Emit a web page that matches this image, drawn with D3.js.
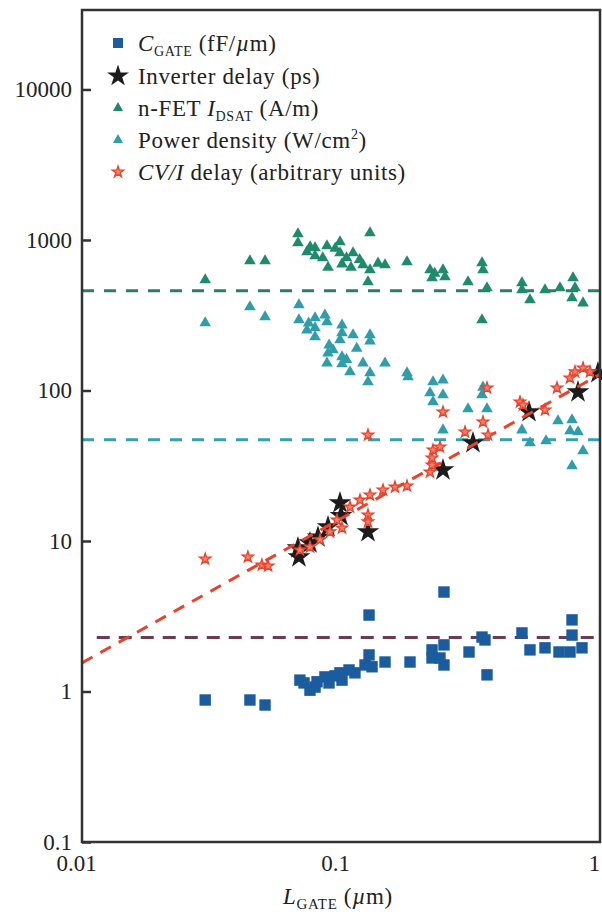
<!DOCTYPE html>
<html>
<head>
<meta charset="utf-8">
<script src="https://cdn.jsdelivr.net/npm/d3@7"></script>
<style>
  html, body { margin: 0; padding: 0; background: #fff; }
  svg { display: block; }
  text { font-family: "Liberation Serif", "Times New Roman", serif; fill: #222; }
</style>
</head>
<body>
<svg id="chart" width="602" height="912"></svg>
<script>
// Gate length L_GATE (µm) paired with each measured quantity.
const cgatePoints = [
  [0.0299, 0.878], [0.0445, 0.878], [0.0509, 0.813], [0.0694, 1.19], [0.0720, 1.14],
  [0.0759, 1.02], [0.0794, 1.07], [0.0808, 1.16], [0.0867, 1.25], [0.0899, 1.14],
  [0.0948, 1.27], [0.0991, 1.33], [0.1009, 1.19], [0.1074, 1.39], [0.1132, 1.33],
  [0.1238, 1.50], [0.1283, 1.75], [0.1318, 1.46], [0.1283, 3.22], [0.1479, 1.57],
  [0.1847, 1.57], [0.2246, 1.89], [0.2246, 1.67], [0.2498, 2.04], [0.2498, 1.50],
  [0.2411, 1.67], [0.2498, 4.58], [0.3121, 1.83], [0.3503, 2.30], [0.3597, 2.20],
  [0.3662, 1.29], [0.4997, 2.45], [0.5366, 1.89], [0.6133, 1.95], [0.6945, 1.83],
  [0.7797, 2.99], [0.7797, 2.37], [0.7659, 1.83], [0.852, 1.95]
];

const inverterDelay = [
  [0.0682, 8.98], [0.0688, 7.83], [0.0759, 9.70], [0.0815, 10.6], [0.0891, 12.4],
  [0.0991, 17.9], [0.1000, 14.7], [0.1271, 11.5], [0.2476, 29.6], [0.3233, 44.8],
  [0.5321, 72.0], [0.8223, 97.7], [0.982, 131]
];

const nfetIdsat = [
  [0.0299, 542], [0.0445, 725], [0.0509, 725], [0.0682, 1096], [0.0682, 955],
  [0.0739, 832], [0.0794, 885], [0.0794, 783], [0.0883, 912], [0.0891, 657],
  [0.0991, 970], [0.0991, 819], [0.1009, 692], [0.1093, 657], [0.1113, 819],
  [0.1216, 682], [0.1294, 1113], [0.1294, 632], [0.1271, 526], [0.1479, 682],
  [0.1798, 714], [0.2206, 632], [0.2246, 559], [0.2476, 632], [0.2521, 568],
  [0.3093, 526], [0.3503, 703], [0.3534, 632], [0.3662, 480], [0.3503, 294],
  [0.4997, 518], [0.4997, 465], [0.5366, 399], [0.6133, 465], [0.7008, 480],
  [0.7867, 559], [0.8008, 480], [0.7797, 412], [0.860, 381],
  [0.0760, 900], [0.0850, 760], [0.1050, 760], [0.1180, 740], [0.0950, 880],
  [0.1390, 700], [0.2300, 600]
];

const powerDensity = [
  [0.0299, 281], [0.0445, 359], [0.0509, 308], [0.0688, 370], [0.0688, 294],
  [0.0739, 252], [0.0794, 303], [0.0794, 260], [0.0794, 227], [0.0867, 317],
  [0.0883, 285], [0.0891, 177], [0.0883, 152], [0.0931, 186], [0.1009, 272],
  [0.1009, 241], [0.0991, 217], [0.1009, 167], [0.1009, 150], [0.1083, 133],
  [0.1113, 234], [0.1216, 152], [0.1294, 234], [0.1294, 213], [0.1294, 131],
  [0.1271, 114], [0.1479, 152], [0.1798, 131], [0.1815, 123], [0.2266, 114],
  [0.2476, 117], [0.2206, 96.2], [0.2266, 83.9], [0.2476, 93.3], [0.2476, 54.6],
  [0.3093, 75.4], [0.3534, 105], [0.3503, 93.3], [0.3662, 75.4], [0.4997, 54.6],
  [0.5366, 44.8], [0.6188, 46.2], [0.6883, 62.7], [0.7797, 63.7], [0.7659, 53.8],
  [0.8223, 53.0], [0.860, 39.6], [0.7797, 31.5],
  [0.0750, 280], [0.0900, 200], [0.1050, 160], [0.1150, 190]
];

const cviDelay = [
  [0.0299, 7.59], [0.0437, 7.83], [0.0495, 6.93], [0.0523, 6.82], [0.0694, 8.71],
  [0.0759, 9.12], [0.0830, 10.2], [0.0907, 11.5], [0.0965, 13.8], [0.1009, 12.2],
  [0.1083, 16.8], [0.1184, 18.7], [0.1271, 14.9], [0.1271, 13.4], [0.1294, 20.2],
  [0.1271, 50.6], [0.1453, 21.8], [0.1616, 22.8], [0.1798, 23.2], [0.2206, 28.7],
  [0.2246, 32.0], [0.2246, 35.6], [0.2266, 40.2], [0.2411, 42.1], [0.2476, 72.0],
  [0.3012, 53.0], [0.3534, 61.8], [0.3695, 50.6], [0.3662, 104], [0.491, 83.9],
  [0.5042, 80.1], [0.6133, 74.2], [0.6823, 104], [0.7659, 121], [0.8008, 133],
  [0.860, 141], [0.915, 133]
];

// Reference levels (dashed) and the CV/I power-law trend.
const nfetLevel = [[0.01, 460], [1, 460]];
const powerLevel = [[0.01, 47], [1, 47]];
const cgateLevel = [[0.0114, 2.28], [1, 2.28]];
const cviTrend = [[0.01, 1.55], [1, 128]];

const yTicks = [0.1, 1, 10, 100, 1000, 10000];
const yTickLabels = ["0.1", "1", "10", "100", "1000", "10000"];
const xTicks = [0.01, 0.1, 1];
const xTickLabels = ["0.01", "0.1", "1"];

const svg = d3.select("#chart");
const plot = { left: 82, right: 600, top: 10, bottom: 842 };

const x = d3.scaleLog().domain([0.01, 1]).range([plot.left, plot.right]);
const y = d3.scaleLog().domain([0.1, Math.pow(10, 4.528)]).range([plot.bottom, plot.top]);

const colors = {
  cgate: "#1b5c9e",
  inv: "#1c1c1c",
  nfet: "#1f8a6c",
  power: "#2d9eaa",
  cvi: "#e8432c",
  cviFill: "#f3806a",
  nfetLine: "#2b7d68",
  powerLine: "#30a3ad",
  cgateLine: "#6b3b52",
  axis: "#333"
};

const FONT = 23, SUB = 14, SPACING = 0.65;

const line = d3.line().x(d => x(d[0])).y(d => y(d[1]));

function dashed(data, color, dash) {
  svg.append("path")
    .datum(data)
    .attr("d", line)
    .attr("fill", "none")
    .attr("stroke", color)
    .attr("stroke-width", 3)
    .attr("stroke-dasharray", dash);
}

dashed(nfetLevel, colors.nfetLine, "12,10");
dashed(powerLevel, colors.powerLine, "12,10");
dashed(cgateLevel, colors.cgateLine, "13,9");

const tri = d3.symbol().type(d3.symbolTriangle).size(58);
const sq = d3.symbol().type(d3.symbolSquare).size(130);
const bigStar = d3.symbol().type(d3.symbolStar).size(160);
const smallStar = d3.symbol().type(d3.symbolStar).size(40);

function scatter(data, sym, fill, stroke, sw) {
  svg.append("g").selectAll("path")
    .data(data)
    .join("path")
    .attr("d", sym)
    .attr("transform", d => `translate(${x(d[0])},${y(d[1])})`)
    .attr("fill", fill)
    .attr("stroke", stroke || "none")
    .attr("stroke-width", sw || 0);
}

scatter(nfetIdsat, tri, colors.nfet);
scatter(powerDensity, tri, colors.power);
scatter(cgatePoints, sq, colors.cgate);
scatter(inverterDelay, bigStar, colors.inv);
dashed(cviTrend, colors.cvi, "12,9");
scatter(cviDelay, smallStar, colors.cviFill, colors.cvi, 1.3);

// Frame
svg.append("rect")
  .attr("x", plot.left).attr("y", plot.top)
  .attr("width", plot.right - plot.left).attr("height", plot.bottom - plot.top)
  .attr("fill", "none").attr("stroke", colors.axis).attr("stroke-width", 2.5);

// Y axis with inward ticks
const yAxis = d3.axisLeft(y)
  .tickValues(yTicks)
  .tickFormat((d, i) => yTickLabels[i])
  .tickSizeInner(-9).tickSizeOuter(0).tickPadding(10);
const gy = svg.append("g").attr("transform", `translate(${plot.left},0)`).call(yAxis);
gy.select(".domain").remove();
gy.selectAll(".tick line").attr("stroke", colors.axis).attr("stroke-width", 2.5);
gy.selectAll(".tick text").attr("font-size", FONT).attr("fill", "#222")
  .style("font-family", "'Liberation Serif', serif");

// X axis labels
const xAxis = d3.axisBottom(x)
  .tickValues(xTicks)
  .tickFormat((d, i) => xTickLabels[i])
  .tickSize(0).tickPadding(13);
const gx = svg.append("g").attr("transform", `translate(0,${plot.bottom})`).call(xAxis);
gx.select(".domain").remove();
gx.selectAll(".tick text").attr("font-size", FONT).attr("fill", "#222").attr("dx", -6)
  .style("font-family", "'Liberation Serif', serif");

// X axis title: L_GATE (µm)
const xt = svg.append("text").attr("x", 338).attr("y", 904)
  .attr("text-anchor", "middle").attr("font-size", FONT)
  .attr("letter-spacing", SPACING);
xt.append("tspan").attr("font-style", "italic").text("L");
xt.append("tspan").attr("font-size", SUB + 1).attr("dy", 5).text("GATE");
xt.append("tspan").attr("dy", -5).text(" (");
xt.append("tspan").attr("font-style", "italic").text("µ");
xt.append("tspan").text("m)");

// Legend
const legend = svg.append("g");
const rows = [
  { y: 43, sym: d3.symbol().type(d3.symbolSquare).size(100), fill: colors.cgate },
  { y: 76, sym: d3.symbol().type(d3.symbolStar).size(150), fill: colors.inv },
  { y: 108, sym: d3.symbol().type(d3.symbolTriangle).size(45), fill: colors.nfet },
  { y: 140, sym: d3.symbol().type(d3.symbolTriangle).size(45), fill: colors.power },
  { y: 172, sym: smallStar, fill: colors.cviFill, stroke: colors.cvi }
];
rows.forEach(r => {
  legend.append("path").attr("d", r.sym)
    .attr("transform", `translate(118,${r.y})`)
    .attr("fill", r.fill)
    .attr("stroke", r.stroke || "none").attr("stroke-width", r.stroke ? 1.3 : 0);
});

function legendText(yPos) {
  return legend.append("text").attr("x", 138).attr("y", yPos + 8)
    .attr("font-size", FONT).attr("letter-spacing", SPACING);
}
let t = legendText(43);
t.append("tspan").attr("font-style", "italic").text("C");
t.append("tspan").attr("font-size", SUB).attr("dy", 5).text("GATE");
t.append("tspan").attr("dy", -5).text(" (fF/");
t.append("tspan").attr("font-style", "italic").text("µ");
t.append("tspan").text("m)");

t = legendText(76);
t.text("Inverter delay (ps)");

t = legendText(108);
t.append("tspan").text("n-FET ");
t.append("tspan").attr("font-style", "italic").text("I");
t.append("tspan").attr("font-size", SUB).attr("dy", 5).text("DSAT");
t.append("tspan").attr("dy", -5).text(" (A/m)");

t = legendText(140);
t.append("tspan").text("Power density (W/cm");
t.append("tspan").attr("font-size", SUB).attr("dy", -9).text("2");
t.append("tspan").attr("dy", 9).text(")");

t = legendText(172);
t.append("tspan").attr("font-style", "italic").text("CV/I");
t.append("tspan").text(" delay (arbitrary units)");
</script>
</body>
</html>
